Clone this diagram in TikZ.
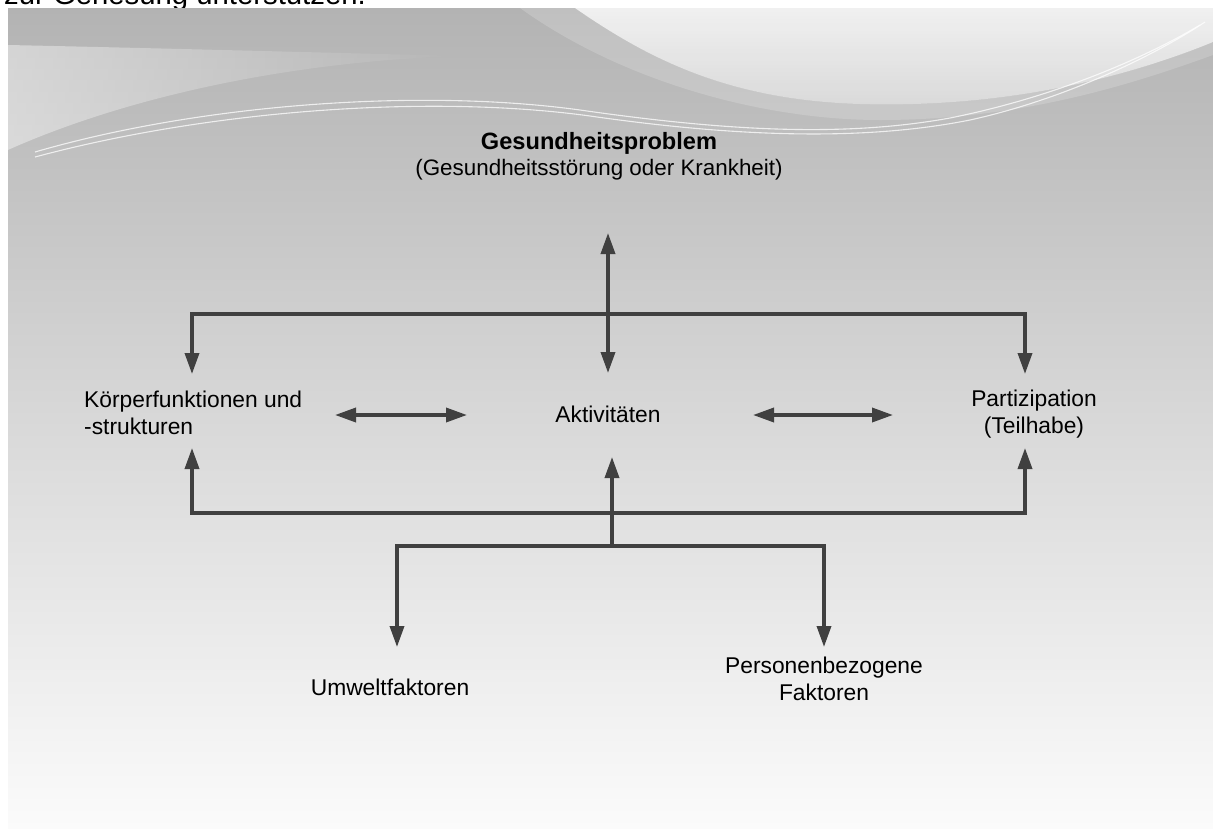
\documentclass[tikz,border=0pt]{standalone}
\usepackage{fontspec}
\setmainfont{Liberation Sans}
\usetikzlibrary{arrows.meta,fadings}
\definecolor{arrowgray}{HTML}{404040}
\definecolor{bgtop}{HTML}{B3B3B3}
\definecolor{bgmid}{HTML}{D8D8D8}
\definecolor{bgbot}{HTML}{FBFBFB}
\tikzset{
  conn/.style={draw=arrowgray, line width=3.5pt, line join=miter},
  tipend/.style={-{Triangle[length=21pt,width=14pt]}},
  tipboth/.style={{Triangle[length=21pt,width=14pt]}-{Triangle[length=21pt,width=14pt]}},
  lbl/.style={inner sep=0pt, font=\fontsize{22.8}{27}\selectfont, text=black},
  wline/.style={draw=white, line width=1.1pt, opacity=0.75},
}
\begin{document}
\begin{tikzpicture}[x=1pt,y=-1pt]
\useasboundingbox (0,0) rectangle (1213,828);
\fill[white] (0,0) rectangle (1213,828);
% cut-off heading at the very top
\begin{scope}
\clip (0,0) rectangle (1213,8);
\node[anchor=base west, inner sep=0pt, font=\fontsize{29.3}{34}\selectfont] (head) at (4,4.5) {zur Genesung unterstützen.};
\end{scope}
% slide background
\shade[top color=bgtop, bottom color=bgbot, middle color=bgmid] (8,8) rectangle (1213,828);
% light area top left
\fill[white, opacity=0.42, path fading=east] (8,45) .. controls (150,48) and (300,52) .. (460,56) .. controls (280,62) and (120,100) .. (8,150) -- cycle;
% large light swoosh top right
\shade[top color=white!90!bgtop, bottom color=white!55!bgtop, opacity=0.9] (575,8) .. controls (650,60) and (730,100) .. (860,104) .. controls (1000,108) and (1120,80) .. (1213,42) -- (1213,8) -- cycle;
\fill[white, opacity=0.18] (520,8) .. controls (620,80) and (760,120) .. (880,120) .. controls (1020,120) and (1130,85) .. (1213,55) -- (1213,42) .. controls (1120,80) and (1000,108) .. (860,104) .. controls (730,100) and (650,60) .. (575,8) -- cycle;
% thin white lines
\draw[wline] (35,152) .. controls (200,104) and (420,88) .. (580,110) .. controls (720,130) and (840,138) .. (950,118) .. controls (1060,96) and (1150,55) .. (1200,25);
\draw[wline] (35,157) .. controls (210,110) and (430,94) .. (590,116) .. controls (730,136) and (860,142) .. (970,120) .. controls (1070,98) and (1160,52) .. (1205,22);
% texts
\node[lbl, font=\bfseries\fontsize{23.6}{28}\selectfont] (gp) at (599,143) {Gesundheitsproblem};
\node[lbl, font=\fontsize{22.4}{27}\selectfont] (gps) at (599,170) {(Gesundheitsstörung oder Krankheit)};
\node[lbl, anchor=west, align=left] (kf) at (84,413) {Körperfunktionen und\\-strukturen};
\node[lbl] (akt) at (608,414) {Aktivitäten};
\node[lbl, align=center] (part) at (1034,414) {Partizipation\\(Teilhabe)};
\node[lbl] (umw) at (390,687) {Umweltfaktoren};
\node[lbl, align=center] (pers) at (824,679) {Personenbezogene\\Faktoren};
% connector end points
\coordinate (gpTip) at (608,233);
\coordinate (aktTop) at (608,373);
\coordinate (topJ) at (608,314);
\coordinate (kfTop) at (192,374);
\coordinate (partTop) at (1025,374);
\coordinate (kfBot) at (192,448);
\coordinate (partBot) at (1025,448);
\coordinate (botJ) at (612,513);
\coordinate (aktBot) at (612,457);
\coordinate (lowJ) at (612,546);
\coordinate (umwTop) at (397,647);
\coordinate (persTop) at (824,647);
\coordinate (kfR) at (335,415);
\coordinate (aktL) at (467,415);
\coordinate (aktR) at (753,415);
\coordinate (partL) at (893,415);
% connectors
\draw[conn, tipboth] (gpTip) -- (aktTop);
\draw[conn, tipend] (topJ) -| (kfTop);
\draw[conn, tipend] (topJ) -| (partTop);
\draw[conn, tipboth] (kfR) -- (aktL);
\draw[conn, tipboth] (aktR) -- (partL);
\draw[conn, tipend] (botJ) -| (kfBot);
\draw[conn, tipend] (botJ) -| (partBot);
\draw[conn, tipend] (lowJ) -- (aktBot);
\draw[conn, tipend] (lowJ) -| (umwTop);
\draw[conn, tipend] (lowJ) -| (persTop);
\end{tikzpicture}
\end{document}
